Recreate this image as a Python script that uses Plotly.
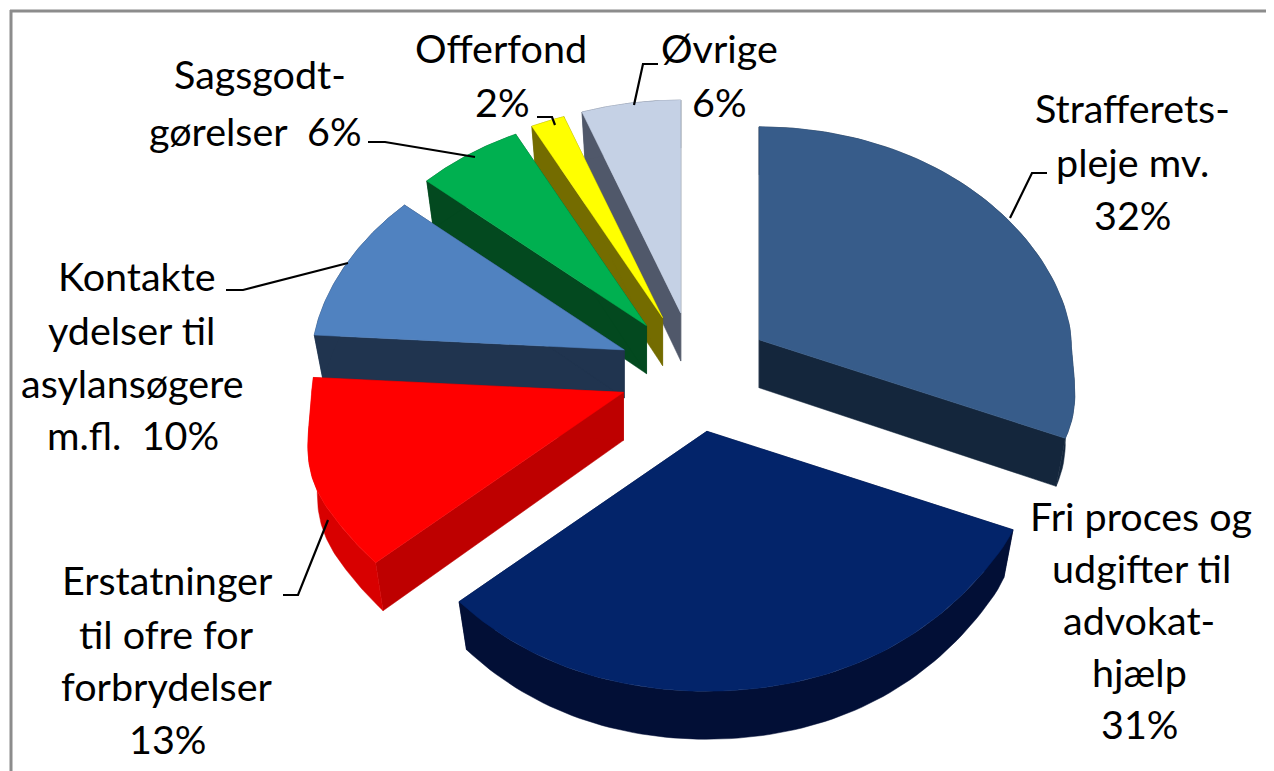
import numpy as np
import plotly.graph_objects as go

categories = ["Strafferetspleje mv.", "Fri proces og udgifter til advokathjælp",
              "Erstatninger til ofre for forbrydelser", "Kontante ydelser til asylansøgere m.fl.",
              "Sagsgodtgørelser", "Offerfond", "Øvrige"]
shares = [32, 31, 13, 10, 6, 2, 6]
top_colors = ["#375C8A", "#03246A", "#FF0000", "#5082C0", "#00B050", "#FFFF00", "#C5D1E5"]
side_colors = ["#14263C", "#020F36", "#BE0000", "#20344F", "#03491F", "#746C00", "#50586A"]
wall_colors = ["#14263C", "#020F36", "#D80000", "#20344F", "#03491F", "#746C00", "#50586A"]
draw_order = [6, 5, 4, 0, 3, 2, 1]

label_lines = [
    ["Strafferets-", "pleje mv.", "32%"],
    ["Fri proces og", "udgifter til", "advokat-", "hjælp", "31%"],
    ["Erstatninger", "til ofre for", "forbrydelser", "13%"],
    ["Kontakte", "ydelser til", "asylansøgere", "m.fl.\u00a0\u00a010%"],
    ["Sagsgodt-", "gørelser\u00a0\u00a06%"],
    ["Offerfond", "2%"],
    ["Øvrige", "6%"],
]
label_x = [[1132, 1132, 1132], [1141, 1141, 1139, 1139, 1139], [167, 166, 167, 167],
           [137, 131, 132, 133], [260, 255], [501, 502], [719, 719]]
label_y = [[107, 161, 214], [515, 567, 619, 671, 723], [579, 633, 685, 738],
           [275, 329, 382, 434], [73, 130], [47, 101], [47, 101]]
leaders = [
    [(1010, 218), (1032, 173), (1047, 173)],
    [(328, 520), (298, 595), (283, 595)],
    [(348, 263), (243, 290), (226, 290)],
    [(475, 157), (385, 142), (368, 142)],
    [(555, 125), (552, 117), (537, 117)],
    [(634, 105), (643, 64), (658, 64)],
]

CX, CY = 695, 372
EX, EY = 76, 60
RX_SIDE = 312
RY_BACK, RY_FRONT = 213, 260
DEPTH = 48
BOTTOM_SHRINK = 0.97
PAGE_MARGIN = 8  # the page body keeps its default margin


def smoothstep(t):
    t = np.clip(t, 0, 1)
    return t * t * (3 - 2 * t)


def project(theta):
    s, c = np.sin(theta), -np.cos(theta)
    rx = np.where(c < 0, RX_SIDE - 48 * np.abs(c) ** 1.3, RX_SIDE + 28 * smoothstep(c / 0.5))
    ry = np.where(c > 0, RY_BACK + (RY_FRONT - RY_BACK) * smoothstep(c), RY_BACK + 24 * (1 - c * c))
    return rx * s, ry * c


def polygon(xs, ys, color):
    xs, ys = list(xs), list(ys)
    return go.Scatter(x=xs + [xs[0]], y=ys + [ys[0]], mode="lines", fill="toself",
                      fillcolor=color, line=dict(color=color, width=0.5),
                      hoverinfo="skip", showlegend=False)


bounds = np.cumsum([0] + shares) / sum(shares) * 2 * np.pi
fig = go.Figure()
for i in draw_order:
    a0, a1 = bounds[i], bounds[i + 1]
    mid = (a0 + a1) / 2
    ax = CX + EX * np.sin(mid)
    ay = CY - EY * np.cos(mid)
    th = np.linspace(a0, a1, 80)
    px, py = project(th)
    tx, ty = ax + px, ay + py
    bx, by = ax + px * BOTTOM_SHRINK, ay + py + DEPTH
    for k in (0, -1):
        fig.add_trace(polygon([ax, tx[k], bx[k], ax], [ay, ty[k], by[k], ay + DEPTH], side_colors[i]))
    fig.add_trace(polygon(np.r_[tx, bx[::-1]], np.r_[ty, by[::-1]], wall_colors[i]))
    fig.add_trace(polygon(np.r_[ax, tx], np.r_[ay, ty], top_colors[i]))

for pts in leaders:
    fig.add_trace(go.Scatter(x=[p[0] for p in pts], y=[p[1] for p in pts], mode="lines",
                             line=dict(color="black", width=2.2), hoverinfo="skip", showlegend=False))

for lines, xs, ys in zip(label_lines, label_x, label_y):
    for t, x, y in zip(lines, xs, ys):
        fig.add_annotation(x=x, y=y, text=t, showarrow=False, xanchor="center", yanchor="middle",
                           font=dict(family="Lato", size=39.5, color="black"))

fig.add_shape(type="line", x0=10, x1=1274, y0=11, y1=11, line=dict(color="#8C8C8C", width=3))
fig.add_shape(type="line", x0=11, x1=11, y0=10, y1=771, line=dict(color="#8C8C8C", width=3))

fig.update_layout(
    width=1274 - PAGE_MARGIN, height=771 - PAGE_MARGIN, margin=dict(l=0, r=0, t=0, b=0),
    paper_bgcolor="white", plot_bgcolor="white", showlegend=False,
    xaxis=dict(range=[PAGE_MARGIN, 1274], visible=False, fixedrange=True),
    yaxis=dict(range=[771, PAGE_MARGIN], visible=False, fixedrange=True),
)
fig.write_html("out.html", config={"displayModeBar": False})
